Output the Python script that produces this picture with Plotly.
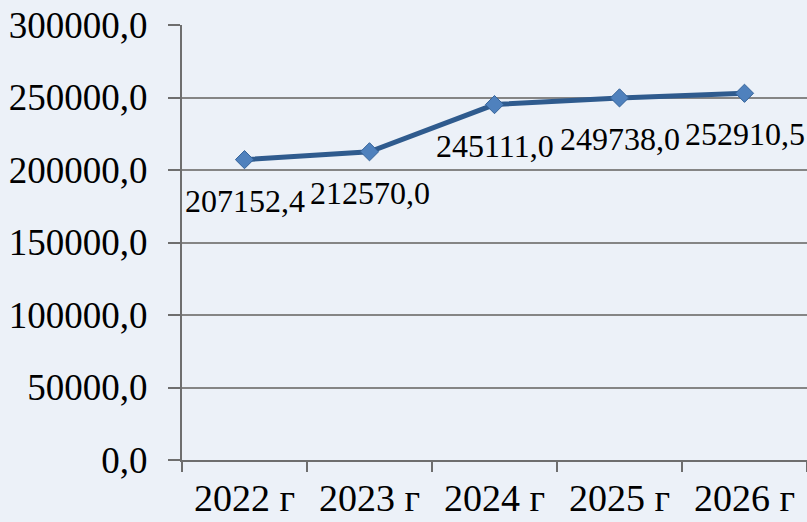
import plotly.graph_objects as go

# Values
years = ["2022 г", "2023 г", "2024 г", "2025 г", "2026 г"]
values = [207152.4, 212570.0, 245111.0, 249738.0, 252910.5]
labels = ["207152,4", "212570,0", "245111,0", "249738,0", "252910,5"]

BG = "#ECF1F8"
AXIS = "#6E6E6E"
FONT = "Liberation Serif"

fig = go.Figure()

fig.add_trace(go.Scatter(
    x=years, y=values, mode="lines+markers",
    line=dict(color="#2F5B8E", width=5),
    marker=dict(symbol="diamond", size=14, color="#4F81BD",
                line=dict(color="#36649A", width=1)),
    showlegend=False, hoverinfo="skip",
))

# data labels, sitting below each point
for x, y, t in zip(years, values, labels):
    fig.add_annotation(x=x, y=y, text=t, showarrow=False, yshift=-41,
                       font=dict(family=FONT, size=32, color="black"))

fig.update_xaxes(
    type="category", tickson="boundaries", range=[-0.5, 4.5],
    showgrid=False, showline=True, linecolor=AXIS, linewidth=2,
    ticks="outside", ticklen=10, tickwidth=2, tickcolor=AXIS,
    tickfont=dict(family=FONT, size=38, color="black"),
    ticklabelstandoff=3,
)
fig.update_yaxes(
    range=[0, 300000], dtick=50000, tickformat=".1f",
    showgrid=True, gridcolor="#858585", gridwidth=1.5,
    showline=True, linecolor=AXIS, linewidth=2, zeroline=False,
    ticks="outside", ticklen=12, tickwidth=2, tickcolor=AXIS,
    tickfont=dict(family=FONT, size=37, color="black"),
    ticklabelstandoff=13,
)

fig.update_layout(
    width=807, height=522,
    margin=dict(l=182, r=0, t=25, b=62),
    paper_bgcolor=BG, plot_bgcolor=BG,
    separators=", ",
    font=dict(family=FONT, color="black"),
)

# drop the browser's default page margin so the chart fills the window
fig.write_html("out.html", config={"displayModeBar": False}, post_script=(
    "document.body.style.margin='0';"
    f"document.body.style.background='{BG}';"
))
